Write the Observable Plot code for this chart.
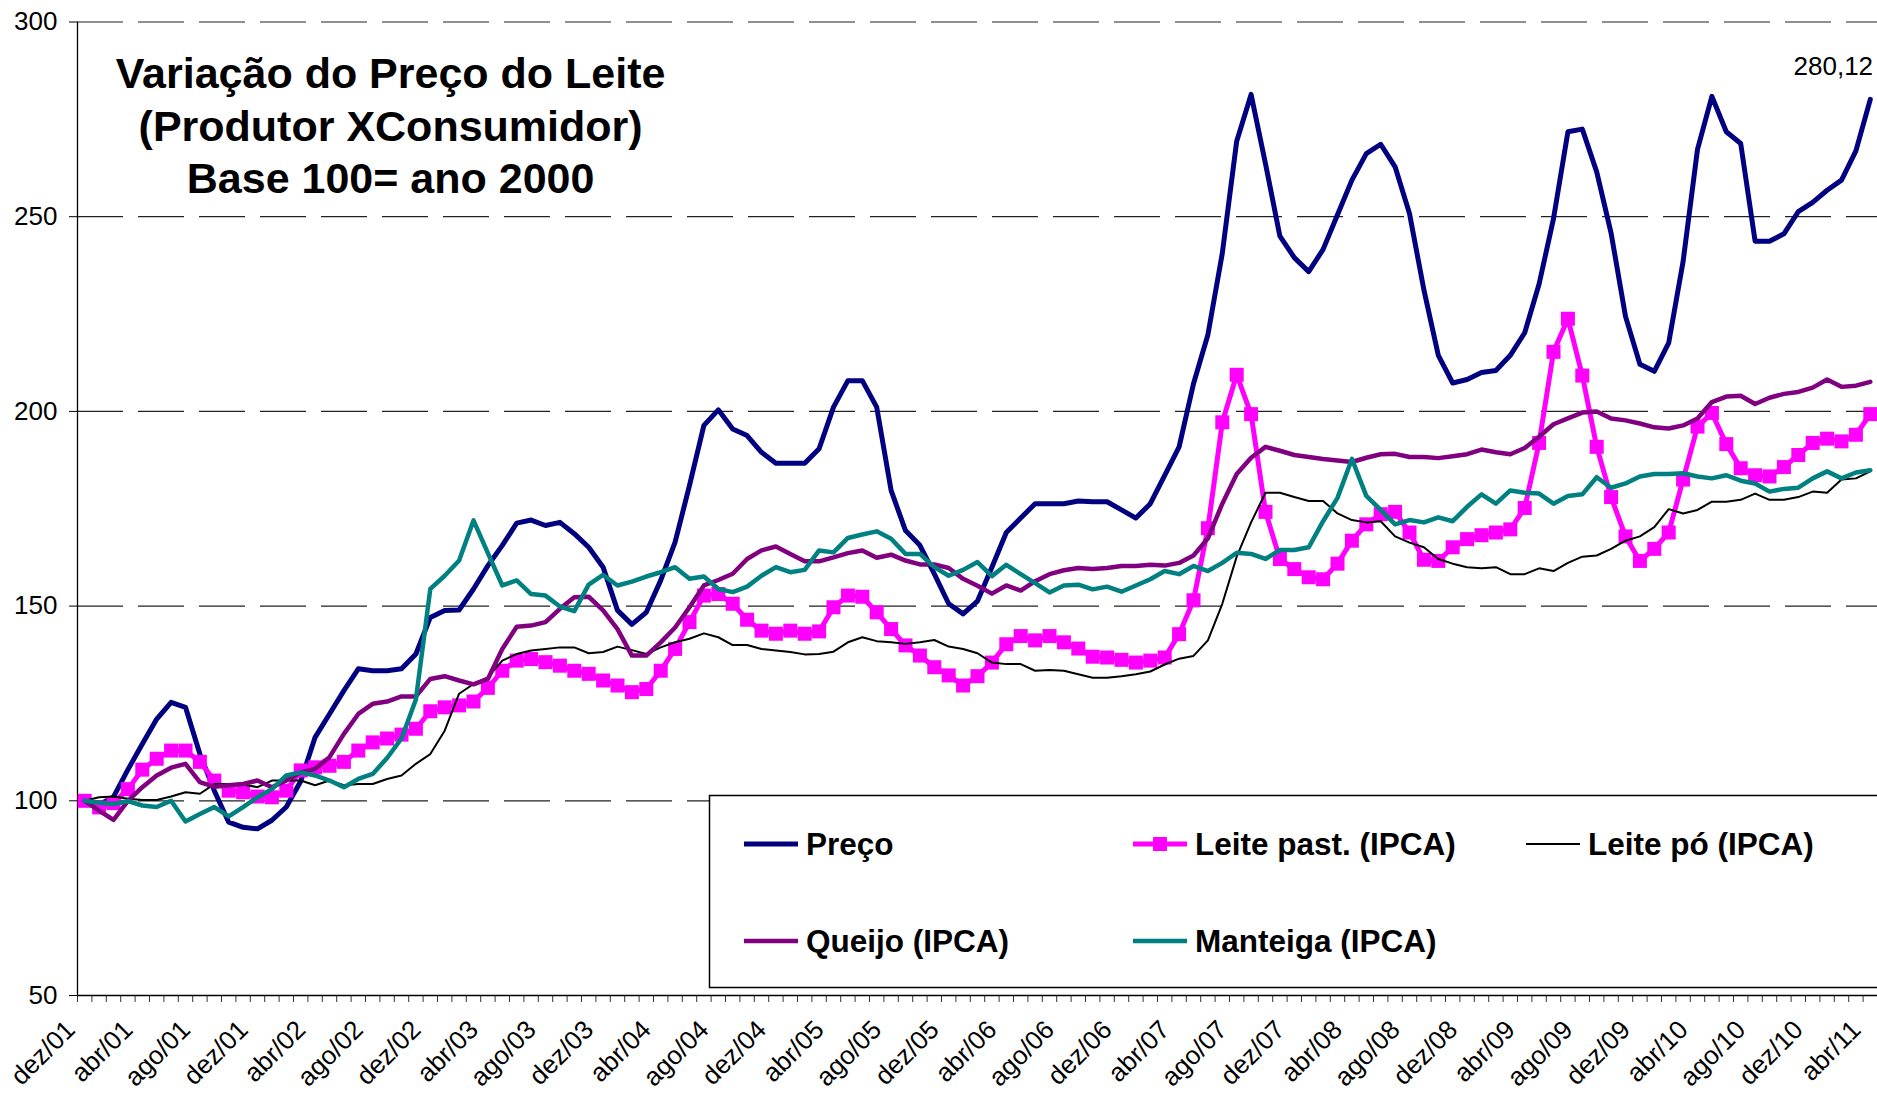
<!DOCTYPE html>
<html><head><meta charset="utf-8">
<script src="https://cdn.jsdelivr.net/npm/d3@7"></script>
<script src="https://cdn.jsdelivr.net/npm/@observablehq/plot@0.6"></script>
<style>
html,body{margin:0;padding:0;background:#fff;}
#chart{position:relative;width:1877px;height:1096px;overflow:hidden;}
</style></head><body><div id="chart"></div>
<script>
// Categories: monthly, dez/00 .. abr/11 (125 months)
const monthNames = ["jan","fev","mar","abr","mai","jun","jul","ago","set","out","nov","dez"];
const months = ["dez/00"];
for (let y = 1; y <= 11; y++) for (let m = 0; m < 12; m++) { if (y === 11 && m > 3) break; months.push(monthNames[m] + "/" + String(y).padStart(2, "0")); }

// Tick labels as printed on the chart (every 4 months)
const tickLabels = ["dez/01","abr/01","ago/01","dez/01","abr/02","ago/02","dez/02","abr/03","ago/03","dez/03","abr/04","ago/04","dez/04","abr/05","ago/05","dez/05","abr/06","ago/06","dez/06","abr/07","ago/07","dez/07","abr/08","ago/08","dez/08","abr/09","ago/09","dez/09","abr/10","ago/10","dez/10","abr/11"];
const yTicks = [50,100,150,200,250,300];
const gridValues = [100,150,200,250,300];

const preco = [100,99,101,108,114.6,121,125.3,124,112,102.6,94.5,93.2,92.8,95,98.4,105,116.3,122.3,128.3,133.9,133.4,133.4,133.9,137.7,147.1,148.9,149,154.4,160.4,165.6,171.3,172.1,170.7,171.5,168.6,165.1,160,148.9,145.3,148.4,156.6,166.4,181,196.4,200.4,195.5,193.8,189.5,186.7,186.7,186.7,190.4,201.1,207.9,207.9,201.1,179.7,169.4,165.6,158.3,150.6,148,151.3,160,168.9,172.6,176.3,176.3,176.3,177,176.8,176.8,174.7,172.6,176.3,183.6,190.9,207.1,219.7,240.6,269.4,281.4,263.6,245,239.5,235.9,241.6,250.5,259.4,266.2,268.6,262.8,250.8,231.2,214.4,207.3,208.2,210,210.5,214.4,220.2,232.7,249.5,271.8,272.5,261.5,245.8,224.4,212.1,210.3,217.6,238.5,267.3,280.9,271.8,268.8,243.7,243.7,245.6,251.3,253.7,256.8,259.4,266.9,280.12];
const leitePast = [100,98.3,99.4,103,108,110.8,112.9,112.9,110,105.2,102.6,102.2,101.1,100.9,102.6,107.8,108.6,109,110,112.9,115,116,117,118.5,123,124,124.5,125.5,129,133.4,136,136.4,135.6,134.7,133.4,132.6,130.9,129.6,127.9,128.7,133.4,139,145.9,152.7,153.1,150.6,146.5,143.7,142.9,143.7,142.9,143.5,149.7,152.7,152.4,148.4,144.1,139.9,137.3,134.3,132.2,129.6,132,135.5,140.2,142.3,141.2,142.3,140.7,139.1,137,136.8,136.2,135.5,136,136.8,142.8,151.5,170,197.2,209.4,199.3,174.2,162.1,159.5,157.4,156.9,160.9,166.8,171,173.6,174.2,168.9,161.9,161.6,165.1,167.2,168.2,168.9,169.7,175.2,191.9,215.3,223.8,209.2,190.9,178,167.9,161.6,164.7,168.9,182.5,196.1,199.6,191.6,185.4,183.6,183.3,185.7,188.8,191.9,193,192.3,194,199.3];
const leitePo = [100,100.9,101.1,100.5,100.2,100.2,101.1,102.2,101.8,104.3,104.3,104.2,103.5,105.2,105.2,105.2,104,105.2,104,104.3,104.3,105.6,106.5,109.5,112,118,127.5,130,131.7,136,137.7,138.6,139,139.4,139.4,137.9,138.2,139.6,138.7,137.7,139.4,140.7,141.6,143,142,140,140,139,138.6,138.2,137.6,137.7,138.3,140.7,142,141,140.7,140.3,140.7,141.3,139.6,139,137.9,135.5,135.1,135.1,133.4,133.6,133.4,132.5,131.6,131.6,132,132.5,133.2,135,136.5,137.2,141.2,150.6,162.7,171.5,179.1,179.1,178,177,177,173.8,172.1,171.5,171.8,167.9,166.3,165.1,162.1,160.9,160,159.7,160,158.2,158.2,159.7,159,161.1,162.7,163,164.7,166.8,167.9,170.3,174.9,173.8,174.7,176.8,176.8,177.3,178.9,177.3,177.3,178,179.4,179.1,182.5,182.8,184.6];
const queijo = [100,97.5,95.1,100,103.5,106.5,108.5,109.5,104.8,103.6,104,104.3,105.2,103.5,105.2,107.3,108.2,111.2,117.2,122.3,124.9,125.5,126.8,126.8,131.3,132,130.9,129.9,131.3,139,144.7,145,145.9,149.3,152.3,152.4,148.9,144.1,137.3,137.3,140.7,144.5,149.7,155.3,156.7,158.3,162.1,164.3,165.3,163.4,161.5,161.5,162.5,163.6,164.3,162.4,163.2,161.7,160.7,160.7,159.8,157,155.2,153.2,155.3,154,156.4,158.2,159.2,159.8,159.5,159.8,160.3,160.3,160.6,160.4,161.1,163,167.4,176.3,183.9,188.1,190.9,189.9,188.8,188.3,187.8,187.4,187,188.1,189,189.1,188.3,188.3,188,188.5,189,190.2,189.5,189,190.6,193.5,196.7,198.2,199.7,200,198.2,197.7,196.9,195.9,195.6,196.4,198.2,202.4,203.8,204,201.9,203.5,204.5,205,206.1,208.2,206.3,206.6,207.6];
const manteiga = [100,99.5,99.2,99.9,98.8,98.4,100,94.7,96.6,98.4,96,98.4,100.9,103,106.5,107.3,106.5,105.2,103.5,105.6,106.9,111,116,126,154.4,157.8,161.7,172,163.6,155.3,156.6,153.1,152.7,149.9,148.7,155.5,158,155.3,156.3,157.6,158.7,160,157,157.6,154.4,153.6,155,157.8,160,158.7,159.3,164.3,163.8,167.5,168.4,169.2,167.3,163.4,163.4,160,157.8,159.3,161.3,157.7,160.6,158.2,155.9,153.5,155.3,155.5,154.3,155,153.7,155.3,156.9,159,158.2,160.3,159,161.1,163.7,163.4,162.1,164.4,164.4,165.1,171.8,177.8,187.8,178.3,174.7,171,172.1,171.5,172.8,171.8,175.5,178.7,176.3,179.7,179.1,178.9,176.3,178.3,178.7,183.1,180.4,181.5,183.3,183.9,183.9,184.1,183.3,182.8,183.6,182.2,181.5,179.4,180.1,180.4,182.8,184.6,182.8,184.3,184.9];

const series = [
  {name: "Preço", values: preco, color: "#000080", width: 5},
  {name: "Leite past. (IPCA)", values: leitePast, color: "#FF00FF", width: 5, marker: true},
  {name: "Leite pó (IPCA)", values: leitePo, color: "#000000", width: 2},
  {name: "Queijo (IPCA)", values: queijo, color: "#800080", width: 4.5},
  {name: "Manteiga (IPCA)", values: manteiga, color: "#008080", width: 4.5}
];
const rows = s => s.values.map((v, i) => ({i, v, month: months[i], serie: s.name}));

const W = 1877, H = 1096;
const boundaries = d3.range(-0.5, months.length, 1);
const labelIdx = tickLabels.map((_, k) => k * 4);
const last = {i: preco.length - 1, v: preco[preco.length - 1]};

const marks = [
  Plot.gridY(gridValues, {stroke: "#222", strokeOpacity: 1, strokeWidth: 1.2, strokeDasharray: "46,15"}),
  Plot.ruleY([50], {stroke: "#000", strokeWidth: 1.3}),
  Plot.ruleX([-0.5], {stroke: "#000", strokeWidth: 1.3}),
  Plot.axisY({ticks: yTicks, tickSize: 8, tickPadding: 12, fontSize: 26, tickFormat: d => String(d), label: null}),
  Plot.axisX({ticks: boundaries, tickFormat: () => "", tickSize: 7, strokeOpacity: 0.8, label: null}),
  Plot.axisX({ticks: labelIdx, tickFormat: d => tickLabels[d / 4], tickSize: 0, tickRotate: -45, tickPadding: 12, fontSize: 26, dx: -14, dy: 18, label: null})
];
for (const s of series) {
  marks.push(Plot.line(rows(s), {x: "i", y: "v", stroke: s.color, strokeWidth: s.width, strokeLinejoin: "round", strokeLinecap: "round"}));
  if (s.marker) marks.push(Plot.dot(rows(s), {x: "i", y: "v", symbol: "square", r: 7.9, fill: s.color, stroke: "none"}));
}
marks.push(Plot.text([last], {x: "i", y: "v", text: d => d.v.toFixed(2).replace(".", ","), dx: -37, dy: -33, fontSize: 26, fill: "#000"}));

const plot = Plot.plot({
  width: W, height: H,
  marginLeft: 77, marginRight: 0, marginTop: 21.5, marginBottom: 101,
  style: {fontFamily: "'Liberation Sans', Arial, sans-serif", fontSize: "26px", color: "#000", background: "#fff"},
  x: {type: "linear", domain: [-0.5, months.length - 0.5], axis: null},
  y: {type: "linear", domain: [50, 300], axis: null},
  marks
});
document.getElementById("chart").appendChild(plot);

// Title inside plot area
const svg = d3.select(plot);
const title = svg.append("g").attr("font-family", "'Liberation Sans', Arial, sans-serif").attr("font-weight", "bold").attr("font-size", 43).attr("text-anchor", "middle").attr("fill", "#000");
const titleLines = ["Variação do Preço do Leite", "(Produtor XConsumidor)", "Base 100= ano 2000"];
titleLines.forEach((t, k) => title.append("text").attr("x", 390.6).attr("y", 88 + k * 52.7).text(t));

// Legend box
const lg = svg.append("g").attr("font-family", "'Liberation Sans', Arial, sans-serif").attr("font-weight", "bold").attr("font-size", 31.5).attr("text-anchor", "start");
lg.append("rect").attr("x", 709.5).attr("y", 795.5).attr("width", 1200).attr("height", 192).attr("fill", "#fff").attr("stroke", "#000").attr("stroke-width", 1.5);
const legendPos = [[744, 844], [1133, 844], [1526, 844], [744, 941], [1133, 941]];
series.forEach((s, k) => {
  const [lx, ly] = legendPos[k];
  lg.append("line").attr("x1", lx).attr("x2", lx + 54).attr("y1", ly).attr("y2", ly).attr("stroke", s.color).attr("stroke-width", s.width);
  if (s.marker) lg.append("rect").attr("x", lx + 27 - 7).attr("y", ly - 7).attr("width", 14).attr("height", 14).attr("fill", s.color);
  lg.append("text").attr("x", lx + 62).attr("y", ly).attr("dy", "0.36em").attr("text-anchor", "start").attr("fill", "#000").text(s.name);
});
</script></body></html>
